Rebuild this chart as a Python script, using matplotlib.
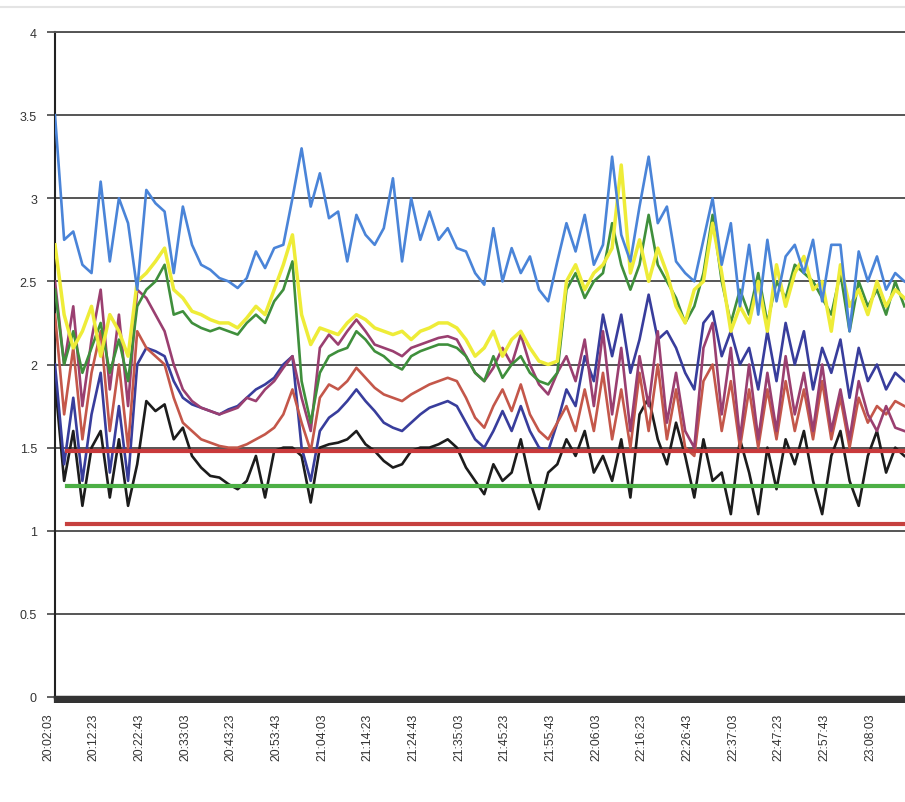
import matplotlib
matplotlib.use("Agg")
import matplotlib.pyplot as plt
import matplotlib.transforms as mtransforms
from matplotlib.lines import Line2D
from matplotlib.ticker import MultipleLocator

plt.rcParams['font.family'] = ['Liberation Sans', 'DejaVu Sans']

# sample index -> one sample every 124 s, labels every 5 samples (620 s)
time_labels = ["20:02:03", "20:12:23", "20:22:43", "20:33:03", "20:43:23",
               "20:53:43", "21:04:03", "21:14:23", "21:24:43", "21:35:03",
               "21:45:23", "21:55:43", "22:06:03", "22:16:23", "22:26:43",
               "22:37:03", "22:47:23", "22:57:43", "23:08:03"]

blue = [3.5, 2.75, 2.8, 2.6, 2.55, 3.1, 2.62, 3.0, 2.85, 2.45,
        3.05, 2.97, 2.92, 2.55, 2.95, 2.72, 2.6, 2.57, 2.52, 2.5,
        2.46, 2.52, 2.68, 2.58, 2.7, 2.72, 3.0, 3.3, 2.95, 3.15,
        2.88, 2.92, 2.62, 2.9, 2.78, 2.72, 2.82, 3.12, 2.62, 3.0,
        2.75, 2.92, 2.75, 2.82, 2.7, 2.68, 2.55, 2.48, 2.82, 2.5,
        2.7, 2.55, 2.65, 2.45, 2.38, 2.62, 2.85, 2.68, 2.9, 2.6,
        2.72, 3.25, 2.78, 2.62, 2.95, 3.25, 2.85, 2.95, 2.62, 2.55,
        2.5, 2.75, 3.0, 2.6, 2.85, 2.35, 2.72, 2.3, 2.75, 2.38,
        2.65, 2.72, 2.55, 2.75, 2.38, 2.72, 2.72, 2.2, 2.68, 2.5,
        2.65, 2.45, 2.55, 2.5]

yellow = [2.72, 2.3, 2.1, 2.2, 2.35, 2.05, 2.3, 2.2, 2.05, 2.5,
          2.55, 2.62, 2.7, 2.45, 2.4, 2.32, 2.3, 2.27, 2.25, 2.25,
          2.22, 2.28, 2.35, 2.3, 2.45, 2.6, 2.78, 2.3, 2.12, 2.22,
          2.2, 2.18, 2.25, 2.3, 2.27, 2.22, 2.2, 2.18, 2.2, 2.15,
          2.2, 2.22, 2.25, 2.25, 2.22, 2.15, 2.05, 2.1, 2.2, 2.05,
          2.15, 2.2, 2.1, 2.02, 2.0, 2.02, 2.5, 2.6, 2.45, 2.55,
          2.6, 2.7, 3.2, 2.55, 2.75, 2.5, 2.7, 2.55, 2.35, 2.25,
          2.45, 2.5, 2.85, 2.55, 2.2, 2.35, 2.25, 2.5, 2.2, 2.6,
          2.35, 2.55, 2.65, 2.45, 2.5, 2.2, 2.6, 2.35, 2.45, 2.3,
          2.5, 2.35, 2.45, 2.4]

green = [2.45, 2.0, 2.2, 1.95, 2.1, 2.25, 1.95, 2.15, 1.9, 2.35,
         2.45, 2.5, 2.6, 2.3, 2.32, 2.25, 2.22, 2.2, 2.22, 2.2,
         2.18, 2.25, 2.3, 2.25, 2.38, 2.45, 2.62, 1.9, 1.65, 1.95,
         2.05, 2.08, 2.1, 2.2, 2.15, 2.08, 2.05, 2.0, 1.97, 2.05,
         2.08, 2.1, 2.12, 2.12, 2.1, 2.05, 1.95, 1.9, 2.05, 1.92,
         2.0, 2.05, 1.95, 1.9, 1.88, 1.95, 2.45, 2.55, 2.4, 2.5,
         2.55, 2.85, 2.6, 2.45, 2.6, 2.9, 2.6, 2.5, 2.4, 2.25,
         2.35, 2.55, 2.9, 2.5, 2.25, 2.45, 2.3, 2.55, 2.25, 2.5,
         2.4, 2.6, 2.55, 2.5, 2.4, 2.3, 2.55, 2.2, 2.5, 2.35,
         2.45, 2.3, 2.5, 2.35]

purple = [2.5, 2.0, 2.35, 1.75, 2.15, 2.45, 1.85, 2.3, 1.75, 2.45,
          2.4, 2.3, 2.2, 2.0, 1.85, 1.78, 1.74, 1.72, 1.7, 1.72,
          1.74, 1.8, 1.78, 1.85, 1.9, 1.98, 2.05, 1.8, 1.6, 2.1,
          2.18, 2.12, 2.2, 2.27, 2.2, 2.12, 2.1, 2.08, 2.05, 2.1,
          2.12, 2.14, 2.16, 2.17, 2.15, 2.05, 1.95, 1.9, 1.98, 2.1,
          2.0, 2.18, 2.0, 1.88, 1.82, 1.95, 2.05, 1.9, 2.15, 1.75,
          2.2, 1.7, 2.1, 1.6, 2.05, 1.75, 2.2, 1.65, 1.95, 1.6,
          1.5, 2.1, 2.25, 1.7, 2.1, 1.55, 2.0, 1.55, 1.95, 1.6,
          2.05, 1.7, 1.95, 1.6, 2.0, 1.6, 1.85, 1.55, 1.9, 1.7,
          1.6, 1.75, 1.62, 1.6]

brick = [2.3, 1.7, 2.1, 1.55, 1.95, 2.2, 1.6, 2.0, 1.5, 2.2,
         2.1, 2.05, 2.0, 1.8, 1.65, 1.6, 1.55, 1.53, 1.51, 1.5,
         1.5, 1.52, 1.55, 1.58, 1.62, 1.7, 1.85, 1.65, 1.48, 1.8,
         1.88, 1.85, 1.9, 1.98, 1.92, 1.86, 1.82, 1.8, 1.78, 1.82,
         1.85, 1.88, 1.9, 1.92, 1.9, 1.8, 1.68, 1.62, 1.75, 1.85,
         1.72, 1.88, 1.7, 1.6, 1.55, 1.65, 1.75, 1.6, 1.85, 1.6,
         1.95, 1.55, 1.85, 1.5, 1.95, 1.6, 2.0, 1.55, 1.85, 1.5,
         1.45, 1.9, 2.0, 1.6, 1.9, 1.5, 1.85, 1.5, 1.85, 1.55,
         1.9, 1.6, 1.85, 1.55, 1.9, 1.55, 1.8, 1.5, 1.8, 1.65,
         1.75, 1.7, 1.78, 1.75]

navy = [2.0, 1.4, 1.8, 1.3, 1.7, 1.95, 1.35, 1.75, 1.3, 2.0,
        2.1, 2.08, 2.05, 1.9, 1.8, 1.76, 1.74, 1.72, 1.7, 1.73,
        1.75, 1.8, 1.85, 1.88, 1.92, 2.0, 2.05, 1.5, 1.3, 1.6,
        1.68, 1.72, 1.78, 1.85, 1.78, 1.72, 1.65, 1.62, 1.6, 1.65,
        1.7, 1.74, 1.76, 1.78, 1.75, 1.65, 1.55, 1.5, 1.6, 1.72,
        1.6, 1.75, 1.6, 1.5, 1.48, 1.65, 1.85, 1.75, 2.05, 1.9,
        2.3, 2.05, 2.3, 1.95, 2.15, 2.42, 2.15, 2.2, 2.1, 1.95,
        1.85, 2.25, 2.32, 2.05, 2.2, 2.0, 2.1, 1.85, 2.2, 1.9,
        2.25, 2.0, 2.2, 1.85, 2.1, 1.95, 2.15, 1.8, 2.1, 1.9,
        2.0, 1.85, 1.95, 1.9]

black = [1.9, 1.3, 1.6, 1.15, 1.5, 1.6, 1.2, 1.55, 1.15, 1.4,
         1.78, 1.72, 1.76, 1.55, 1.62, 1.45, 1.38, 1.33, 1.32, 1.28,
         1.25, 1.3, 1.45, 1.2, 1.48, 1.5, 1.5, 1.45, 1.17, 1.5,
         1.52, 1.53, 1.55, 1.6, 1.52, 1.48, 1.42, 1.38, 1.4, 1.48,
         1.5, 1.5, 1.52, 1.55, 1.5, 1.38, 1.3, 1.22, 1.4, 1.3,
         1.35, 1.55, 1.3, 1.13, 1.35, 1.4, 1.55, 1.45, 1.6, 1.35,
         1.45, 1.3, 1.55, 1.2, 1.7, 1.8, 1.55, 1.4, 1.65, 1.45,
         1.2, 1.55, 1.3, 1.35, 1.1, 1.55, 1.35, 1.1, 1.5, 1.25,
         1.55, 1.4, 1.6, 1.3, 1.1, 1.45, 1.6, 1.3, 1.15, 1.45,
         1.6, 1.35, 1.5, 1.45]

limit_upper = 1.48
limit_mid = 1.27
limit_lower = 1.04

W, H = 905, 803
fig = plt.figure(figsize=(W / 100, H / 100), dpi=100)
fig.patch.set_facecolor('white')

x0_px, y0_px, ytop_px = 55, 698, 33
px_per_idx = 9.133
n_view = 100
ax = fig.add_axes([x0_px / W, (H - y0_px) / H,
                   n_view * px_per_idx / W, (y0_px - ytop_px) / H])

idx = list(range(len(blue)))
lw = 1.9
ax.plot(idx, black, color='#1c1c1c', lw=lw, zorder=3)
ax.plot(idx, navy, color='#383d9c', lw=lw, zorder=3.1)
ax.plot(idx, brick, color='#c4574a', lw=lw, zorder=3.2)
ax.plot(idx, purple, color='#9a3f70', lw=lw, zorder=3.3)
ax.plot(idx, green, color='#3f8f3c', lw=lw, zorder=3.4)
ax.plot(idx, yellow, color='#eeec38', lw=lw + 0.6, zorder=3.5)
ax.plot(idx, blue, color='#4a84d8', lw=lw, zorder=3.6)

n = len(blue)
ax.plot([1.3, n - 1], [limit_upper] * 2, color='#c93a3c', lw=3, zorder=4)
ax.plot([1.3, n - 1], [limit_mid] * 2, color='#4caf45', lw=3, zorder=4)
ax.plot([1.3, n - 1], [limit_lower] * 2, color='#c6403e', lw=3, zorder=4)

ax.set_xlim(0, n_view)
ax.set_ylim(0, 4)
ax.set_yticks([0, 0.5, 1, 1.5, 2, 2.5, 3, 3.5, 4])
ax.set_yticklabels(['0', '0.5', '1', '1.5', '2', '2.5', '3', '3.5', '4'])
ax.grid(axis='y', color='#555555', lw=1.4)
ax.set_axisbelow(True)

ax.set_xticks([5 * k for k in range(len(time_labels))])
ax.set_xticklabels(time_labels, rotation=90, va='top', ha='center')
ax.xaxis.set_minor_locator(MultipleLocator(0.125))
ax.tick_params(axis='x', which='major', length=4, width=1.6, color='#333333',
               direction='out', pad=7.1, labelsize=8.8, labelcolor='#333333')
ax.tick_params(axis='x', which='minor', length=4, width=1.6, color='#333333',
               direction='out')
ax.tick_params(axis='y', length=6, width=1.3, color='#555555', pad=7,
               labelsize=9, labelcolor='#333333')
offset = mtransforms.ScaledTranslation(-7 / 100, 0, fig.dpi_scale_trans)
for lab in ax.get_xticklabels():
    lab.set_transform(lab.get_transform() + offset)

ax.spines['right'].set_visible(False)
ax.spines['top'].set_color('#555555')
ax.spines['top'].set_linewidth(1.4)
ax.spines['left'].set_color('#222222')
ax.spines['left'].set_linewidth(1.5)
ax.spines['bottom'].set_color('#333333')
ax.spines['bottom'].set_linewidth(2.5)

fig.add_artist(Line2D([0, 1], [1 - 8 / H, 1 - 8 / H], color='#e4e4e4', lw=1.5,
                      transform=fig.transFigure))

fig.savefig('out.png', dpi=100)
